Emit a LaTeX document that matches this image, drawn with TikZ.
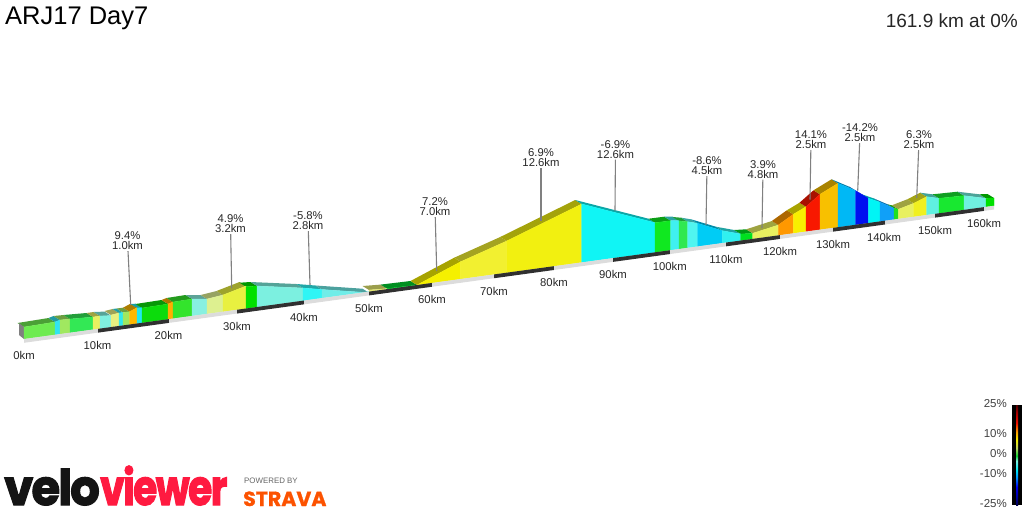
\documentclass[tikz,border=0pt]{standalone}
\usepackage{fontspec}
\setmainfont{Liberation Sans}
\newfontfamily\logofont[LetterSpace=-4,FakeBold=2.5]{Poppins}
\newfontfamily\stravafont[FakeBold=1]{Poppins}
\usepackage{xcolor}
\usetikzlibrary{positioning, calc}
\definecolor{veloblack}{HTML}{141414}
\definecolor{velored}{HTML}{FF1A40}
\definecolor{stravaorange}{HTML}{FC5200}
\definecolor{stripgrey}{HTML}{DCDCDC}
\definecolor{stripblack}{HTML}{303030}
\pgfdeclareverticalshading{gradebar}{10bp}{
	rgb(0bp)=(0,0,0.31);
	rgb(25bp)=(0,0,0.31);
	rgb(29bp)=(0,0,0.63);
	rgb(34bp)=(0,0,0.95);
	rgb(38.5bp)=(0,0.56,1);
	rgb(42.5bp)=(0,0.91,0.96);
	rgb(47bp)=(0.5,0.94,0.88);
	rgb(49.6bp)=(0.06,0.82,0.19);
	rgb(53.5bp)=(0.75,0.82,0.38);
	rgb(57.5bp)=(0.97,0.94,0);
	rgb(61.5bp)=(1,0.63,0);
	rgb(66bp)=(0.94,0.06,0);
	rgb(71.5bp)=(0.63,0,0);
	rgb(75bp)=(0.31,0,0);
	rgb(100bp)=(0.31,0,0)
}
\tikzset{
	callout/.style={align=center, inner sep=1pt, text=black!85, font=\fontsize{11.3}{10}\selectfont},
	kmlabel/.style={inner sep=0pt, text=black!85, font=\fontsize{11.3}{12}\selectfont},
	gradelabel/.style={anchor=east, inner sep=0pt, text=black!75, font=\fontsize{11.5}{12}\selectfont},
	leader/.style={draw=black!50, line width=1.1pt}
}
% x0/y0/x1/y1/colour of each gradient block, front top edge
\def\slopelist{
	24/327/55/322/6EEB50, 55/322/60/320/30E4F0, 60/320/70/319/A0E860, 70/319/93/317/33E855,
	93/317/100/316/E8F060, 100/316/111/315.6/80F0E0, 111/315/119/313/E8F080, 119/313/123/312.5/30E8F0,
	123/312.5/129.5/311.7/A0E860, 129.5/311.7/137/307.7/FFB800, 137/308/142/307.7/20E8F0, 142/308/168/304/0CDC0C,
	168/304/173/302/FFAE00, 173/302/192/299/33E42C, 192/299/207/299/88F0E0, 207/299/223/295/DDF090,
	223/295/246/286/E8F040, 246/286.7/257/286/00E000, 257/286/303/288/7CF0E0, 303/288/322/289.5/30F5F5,
	322/289.5/369/292.7/70EDE8, 369/290/387/288.6/E4E870, 387/288.6/417/285/00D030, 417/285/460.7/261.7/F5F000,
	460.7/261.7/506.7/241/F2F030, 506.7/241/581.7/204/F2F010, 581.7/204/655/222.7/10F5F5, 655/222.7/670.7/220.7/10E820,
	670.7/220.7/679/220.5/40F0F0, 679/221/687.7/221.7/30E850, 687.7/221.7/697.5/223.3/50F5F0, 697.5/223.3/722.3/230.7/00CCF5,
	722.3/230.7/740.7/234/30F0F0, 740.7/234/752.7/233.3/00E020, 752.7/233.3/778.3/225/E8F060, 778.3/225/793.3/214.3/FF9800,
	793.3/214.3/806/206.7/F8F000, 806/206.7/820/194.3/F81800, 820/194.3/838/183.3/F8C000, 838/183.3/855.7/190.7/00B8F5,
	855.7/190.7/868.3/198.3/0010F0, 868.3/198.3/880/202.3/00F5F5, 880/202.3/894/208.3/10A0F8, 894/208.3/898.3/209.3/20E020,
	898.3/209.3/913.7/203.3/E8F060, 913.7/203.3/926.7/196.7/F0F020, 926.7/196.7/939/198.3/60F0E0, 939/198.3/964/195.7/18E830,
	964/195.7/986/198.3/70F0E0, 986/198.3/994/198/00E000%
}
\begin{document}
\begin{tikzpicture}[x=1pt, y=-1pt]
	\useasboundingbox (0,0) rectangle (1024,512);
	
	% Title and summary
	\node[anchor=west, inner sep=0pt, font=\fontsize{25.5}{28}\selectfont] (title) at (5,18) {ARJ17 Day7};
	\node[anchor=east, inner sep=0pt, text=black!85, font=\fontsize{19}{22}\selectfont] (summary) at (1018,21) {161.9 km at 0\%};
	
	% Top faces of the blocks, behind everything
	\foreach \xa/\ya/\xb/\yb/\col in \slopelist {
		\definecolor{slopecol}{HTML}{\col}
		\fill[slopecol!68!black] (\xa,\ya) -- (\xa-6.5,\ya-4) -- (\xb-6.5,\yb-4) -- (\xb,\yb) -- cycle;
	}
	
	% End of the block at 0km
	\fill[black!50] (19,323) -- (24,327) -- (24,339) -- (19,335) -- cycle;
	
	% Front faces, bottom edge follows the road strip
	\foreach \xa/\ya/\xb/\yb/\col in \slopelist {
		\definecolor{slopecol}{HTML}{\col}
		\pgfmathsetmacro{\basea}{339-0.1374*(\xa-24)}
		\pgfmathsetmacro{\baseb}{339-0.1374*(\xb-24)}
		\fill[slopecol, draw=slopecol, line width=0.3pt] (\xa,\ya) -- (\xb,\yb) -- (\xb,\baseb) -- (\xa,\basea) -- cycle;
	}
	
	% Road strip, one stretch per 10km
	\foreach \xa/\xb/\col in {24/98/stripgrey, 98/169/stripblack, 169/237/stripgrey, 237/304/stripblack, 304/369/stripgrey, 369/432/stripblack, 432/494/stripgrey, 494/554/stripblack, 554/613/stripgrey, 613/670/stripblack, 670/726/stripgrey, 726/780/stripblack, 780/833/stripgrey, 833/885/stripblack, 885/935/stripgrey, 935/984/stripblack, 984/994/stripgrey} {
		\pgfmathsetmacro{\basea}{339-0.1374*(\xa-24)}
		\pgfmathsetmacro{\baseb}{339-0.1374*(\xb-24)}
		\fill[\col] (\xa,\basea) -- (\xb,\baseb) -- (\xb,\baseb+3.8) -- (\xa,\basea+3.8) -- cycle;
	}
	
	% Distance labels
	\foreach \km/\x/\y in {0/24/355.5, 10/97.5/345.5, 20/168.5/335, 30/237/326, 40/304/317, 50/369/308.5, 60/432/299.7, 70/494/291, 80/554/282, 90/613/274.5, 100/669.7/266.5, 110/726/259.5, 120/780/251.5, 130/833/244.5, 140/884/237.5, 150/935/230.5, 160/984/223.5}
		\node[kmlabel] (km\km) at (\x,\y) {\km km};
	
	% Climb and descent callouts
	\foreach \nm/\x/\y/\ex/\ey/\pct/\dist in {
		climba/127.5/241/130.7/305/9.4/1.0, climbb/230.5/224/231.7/288/4.9/3.2,
		descc/308/221/310/285/-5.8/2.8, climbd/435/207/436.7/271/7.2/7.0,
		climbe/541/158/541/220.7/6.9/12.6, descf/615.5/149.5/615/210.5/-6.9/12.6,
		descg/707/166/706/225/-8.6/4.5, climbh/763/169.5/762/228/3.9/4.8,
		climbi/811/140/810/199.5/14.1/2.5, descj/860/133/857.7/190.7/-14.2/2.5,
		climbk/919/140/916.7/198/6.3/2.5} {
		\node[callout] (\nm) at (\x,\y) {\pct\%\\\dist km};
		\coordinate (\nm end) at (\ex,\ey);
		\draw[leader] (\nm) -- (\nm end);
	}
	
	% Gradient legend
	\fill[shading=gradebar] (1012,405) rectangle (1022,505);
	\foreach \nm/\txt/\y in {gmax/25/404, gten/10/434, gzero/0/454, gminten/-10/474, gmin/-25/504}
		\node[gradelabel] (\nm) at (1007,\y) {\txt\%};
	
	% Logos
	\node[anchor=base west, inner sep=0pt, xscale=0.95, text=veloblack, font=\fontsize{49}{50}\logofont\bfseries] (velo) at (4,505) {velo};
	\node[anchor=base west, inner sep=0pt, xscale=0.8, text=velored, font=\fontsize{49}{50}\logofont\bfseries] (viewer) at (100,505) {viewer};
	\node[anchor=base west, inner sep=0pt, text=black!60, font=\fontsize{7.9}{8}\selectfont] (powered) at (244,483.6) {POWERED\kern2pt BY};
	\node[anchor=base west, inner sep=0pt, text=stravaorange, font=\fontsize{20.5}{22}\stravafont\bfseries] (strava) at (243,506) {STRAVA};
\end{tikzpicture}
\end{document}
